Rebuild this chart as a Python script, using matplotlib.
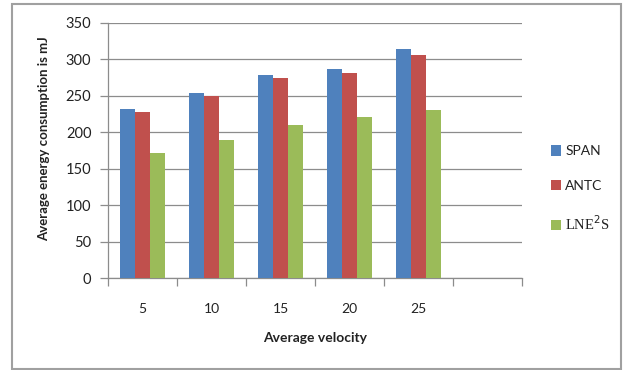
import matplotlib
matplotlib.use("Agg")
import matplotlib.pyplot as plt
from matplotlib.patches import Rectangle, Patch
import numpy as np

categories = ["5", "10", "15", "20", "25", ""]
span = [232, 254, 278, 287, 315]
antc = [228, 250, 275, 282, 306]
lne2s = [172, 190, 210, 221, 230]
series_names = ["SPAN", "ANTC", "LNE$^2$S"]
colors = ["#4F81BD", "#C0504D", "#9BBB59"]
y_ticks = [0, 50, 100, 150, 200, 250, 300, 350]

plt.rcParams["font.family"] = ["Lato", "DejaVu Sans"]

W, H = 624, 370
fig = plt.figure(figsize=(W / 100, H / 100), dpi=100)
fig.patches.append(Rectangle((12 / W, 1 - 369 / H), (621 - 12) / W, (369 - 4) / H,
                             transform=fig.transFigure, fill=False,
                             edgecolor="#a0a0a0", linewidth=1.5))

ax = fig.add_axes([108 / W, 1 - 278 / H, (522 - 108) / W, (278 - 23) / H])

n_cat = len(categories)
bw = 15 / 69
x = np.arange(n_cat)
for i, (vals, c) in enumerate(zip([span, antc, lne2s], colors)):
    xs = np.arange(len(vals)) + (i - 1) * bw
    ax.bar(xs, vals, width=bw, color=c, edgecolor="none", zorder=3)

ax.set_xlim(-0.5, n_cat - 0.5)
ax.set_ylim(0, 350)
ax.set_yticks(y_ticks)
ax.yaxis.grid(True, color="#8c8c8c", linewidth=0.9, zorder=0)
ax.set_axisbelow(True)

for s in ["top", "right"]:
    ax.spines[s].set_visible(False)
for s in ["left", "bottom"]:
    ax.spines[s].set_color("#8c8c8c")
    ax.spines[s].set_linewidth(0.9)

ax.set_xticks(x)
ax.set_xticklabels(categories)
ax.set_xticks(np.arange(n_cat + 1) - 0.5, minor=True)
ax.tick_params(axis="x", which="major", length=0, pad=18, labelsize=10, colors="#222222")
ax.tick_params(axis="x", which="minor", length=6, width=0.9, color="#8c8c8c", direction="out")
ax.tick_params(axis="y", length=6, width=0.9, color="#8c8c8c", direction="out",
               labelsize=10.5, labelcolor="#222222", pad=6)

ax.set_xlabel("Average velocity", fontsize=10, fontweight="bold", labelpad=12, color="#222222")
fig.text(44 / W, 1 - 139 / H, "Average energy consumption is mJ", rotation=90,
         ha="center", va="center", fontsize=9.5, fontweight="bold", color="#222222")

handles = [Patch(facecolor=c, edgecolor="none") for c in colors]
leg = fig.legend(handles, series_names, loc="center left",
                 bbox_to_anchor=(538 / W, 1 - 189 / H), frameon=False,
                 handlelength=0.75, handleheight=0.75, handletextpad=0.3,
                 labelspacing=1.6, fontsize=10)
for t in leg.get_texts():
    t.set_color("#222222")
leg.get_texts()[2].set_family("Liberation Serif")
leg.get_texts()[2].set_fontsize(10.5)

fig.savefig("out.png", dpi=100)
